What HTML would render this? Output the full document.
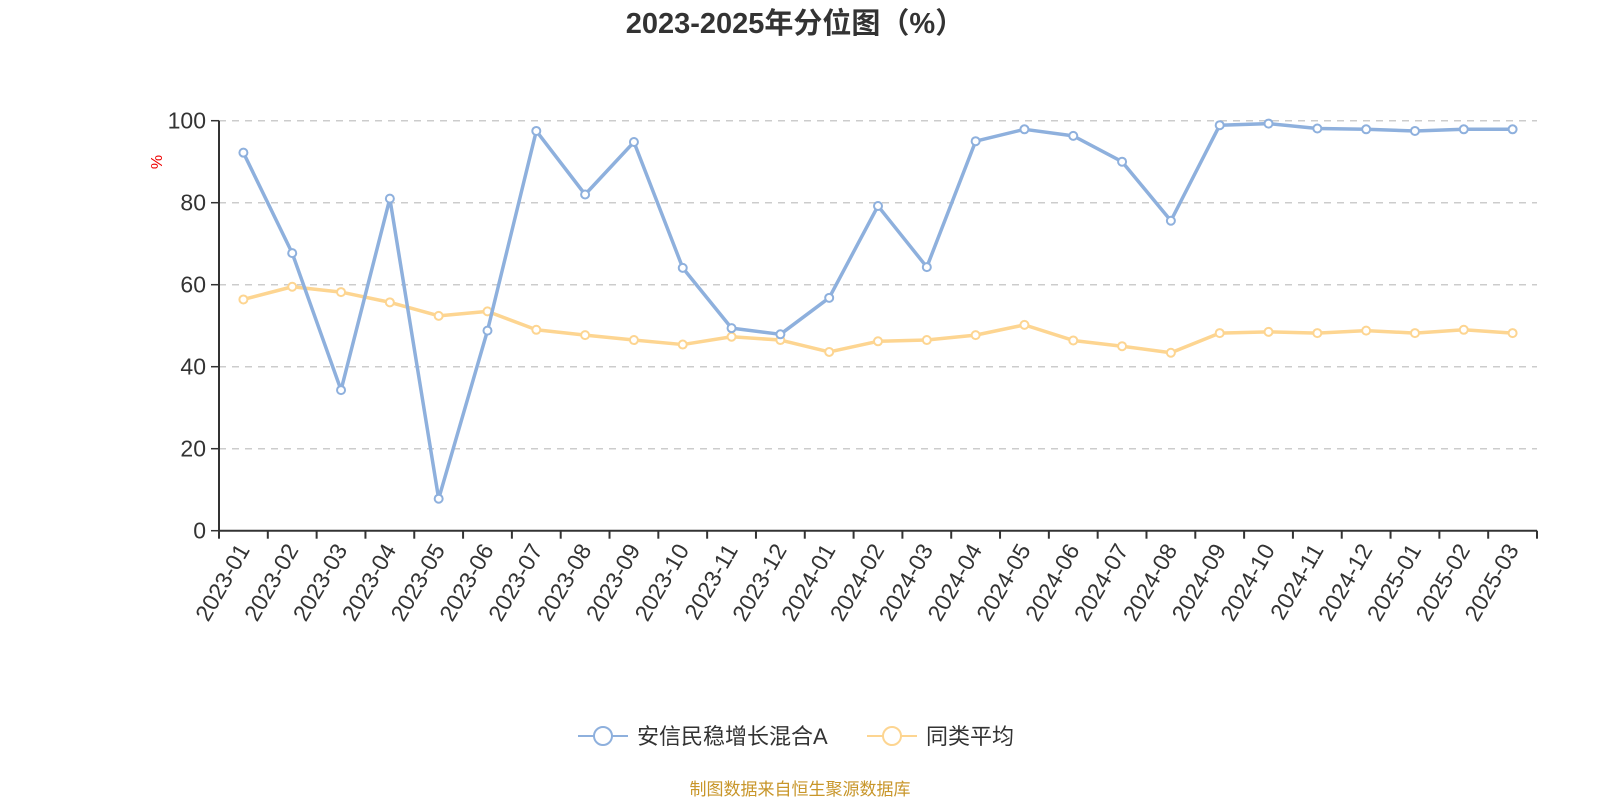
<!DOCTYPE html>
<html><head><meta charset="utf-8"><style>
body{margin:0;background:#fff;}
svg text{font-family:"Liberation Sans","Noto Sans CJK SC",sans-serif;}
</style></head><body>
<svg id="c" width="1600" height="800">
<text x="795" y="33" text-anchor="middle" font-size="29" font-weight="bold" fill="#333">2023-2025年分位图（%）</text>
<text transform="translate(162,162) rotate(-90)" text-anchor="middle" font-size="16" fill="#e00">%</text>
<g id="grid"></g><g id="axes"></g><g id="series"></g>
<g>
<g>
<line x1="578" y1="736" x2="628" y2="736" stroke="#8eb0dd" stroke-width="2"/>
<circle cx="603" cy="736" r="9" fill="#fff" stroke="#8eb0dd" stroke-width="2"/>
<text x="637" y="744" font-size="22" fill="#333">安信民稳增长混合A</text></g>
<g>
<line x1="867" y1="736" x2="917" y2="736" stroke="#fdd591" stroke-width="2"/>
<circle cx="892" cy="736" r="9" fill="#fff" stroke="#fdd591" stroke-width="2"/>
<text x="926" y="744" font-size="22" fill="#333">同类平均</text></g>
</g>
<text x="800" y="795" text-anchor="middle" font-size="17" fill="#c8962a">制图数据来自恒生聚源数据库</text>
</svg>
<script>
const categories=["2023-01","2023-02","2023-03","2023-04","2023-05","2023-06","2023-07","2023-08","2023-09","2023-10","2023-11","2023-12","2024-01","2024-02","2024-03","2024-04","2024-05","2024-06","2024-07","2024-08","2024-09","2024-10","2024-11","2024-12","2025-01","2025-02","2025-03"];
const fundValues=[92.2,67.7,34.3,81,7.8,48.8,97.5,82,94.8,64.1,49.4,47.9,56.8,79.2,64.3,95,97.9,96.3,90,75.6,98.9,99.3,98.1,97.9,97.5,97.9,97.9];
const avgValues=[56.4,59.5,58.2,55.7,52.4,53.5,49,47.7,46.5,45.4,47.3,46.5,43.6,46.2,46.5,47.7,50.2,46.4,45,43.4,48.2,48.5,48.2,48.8,48.2,49,48.2];
const yTicks=[0,20,40,60,80,100];
const NS="http://www.w3.org/2000/svg";
const X0=219,X1=1537,Y0=530.7,Y1=120.7;
const band=(X1-X0)/categories.length;
const xs=i=>X0+band*(i+0.5);
const ys=v=>Y0-(v/100)*(Y0-Y1);
function mk(tag,attrs,parent){const e=document.createElementNS(NS,tag);for(const k in attrs)e.setAttribute(k,attrs[k]);parent.appendChild(e);return e;}
const grid=document.getElementById('grid'),axes=document.getElementById('axes'),ser=document.getElementById('series');
yTicks.forEach(t=>{
 if(t>0){const g=mk('line',{x1:X0,x2:X1,y1:ys(t),y2:ys(t),stroke:'#ccc','stroke-width':1.5,'stroke-dasharray':'7,6'},grid);
 
 }
 const tk=mk('line',{x1:X0-8,x2:X0,y1:ys(t),y2:ys(t),stroke:'#333','stroke-width':1.5},axes);
 
 
 const lb=mk('text',{x:X0-13,y:ys(t)+8,'text-anchor':'end','font-size':23,fill:'#333'},axes);lb.textContent=t;
 
 
});
const ya=mk('line',{x1:X0,x2:X0,y1:Y1,y2:Y0,stroke:'#333','stroke-width':2},axes);


const xa=mk('line',{x1:X0,x2:X1,y1:Y0,y2:Y0,stroke:'#333','stroke-width':2},axes);


for(let i=0;i<=categories.length;i++){const x=X0+band*i;const t=mk('line',{x1:x,x2:x,y1:Y0,y2:Y0+8,stroke:'#333','stroke-width':2},axes);
 
 }
categories.forEach((c,i)=>{const x=xs(i),y=Y0+12;
 const lb=mk('text',{x:x+7,y:y+7,'text-anchor':'end','font-size':23,fill:'#333',transform:`rotate(-60 ${x+7} ${y+7})`},axes);lb.textContent=c;
 
 });
function drawSeries(vals,color,name){
 const p=mk('polyline',{points:vals.map((v,i)=>xs(i)+','+ys(v)).join(' '),fill:'none',stroke:color,'stroke-width':3.5,'stroke-linejoin':'round'},ser);
 
 
 vals.forEach((v,i)=>{const c=mk('circle',{cx:xs(i),cy:ys(v),r:4,fill:'#fff',stroke:color,'stroke-width':2},ser);
 
 });
}
drawSeries(avgValues,'#fdd591','average');
drawSeries(fundValues,'#8eb0dd','fund');
</script>
</body></html>
